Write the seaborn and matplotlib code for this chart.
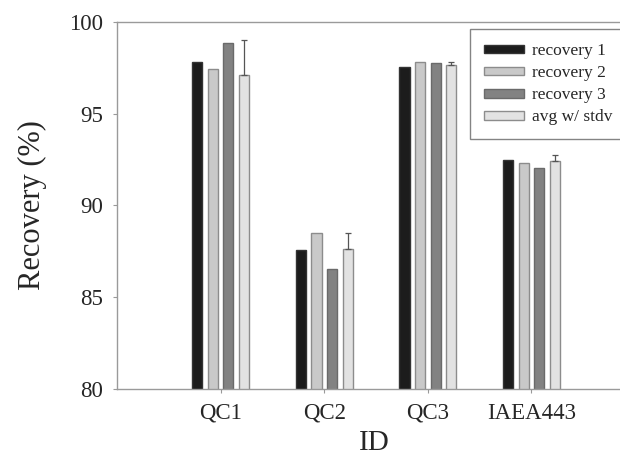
import matplotlib
matplotlib.use("Agg")
import matplotlib.pyplot as plt
import seaborn as sns
import pandas as pd

# values
ids = ["QC1", "QC2", "QC3", "IAEA443"]
series = ["recovery 1", "recovery 2", "recovery 3", "avg w/ stdv"]
recovery1 = [97.8, 87.6, 97.55, 92.5]
recovery2 = [97.45, 88.5, 97.8, 92.3]
recovery3 = [98.85, 86.55, 97.75, 92.05]
avg = [97.1, 87.65, 97.65, 92.4]
stdv = [1.9, 0.85, 0.17, 0.33]

colors = ["#1c1c1c", "#c9c9c9", "#828282", "#e2e2e2"]
edges = ["#333333", "#8c8c8c", "#6a6a6a", "#8c8c8c"]

rows = []
for name, vals in zip(series, [recovery1, recovery2, recovery3, avg]):
    for i, v in zip(ids, vals):
        rows.append({"ID": i, "series": name, "value": v})
df = pd.DataFrame(rows)

sns.set_style("white")
plt.rcParams["font.family"] = ["Liberation Serif", "DejaVu Serif"]

fig = plt.figure(figsize=(6.2, 4.57), dpi=100)
ax = fig.add_axes([117 / 620, 68 / 457, 515 / 620, 367 / 457])

sns.barplot(data=df, x="ID", y="value", hue="series", order=ids, hue_order=series,
            palette=colors, width=0.6, gap=0.35, errorbar=None, ax=ax,
            linewidth=1.0, saturation=1)

for cont, ec in zip(ax.containers, edges):
    for p in cont:
        p.set_edgecolor(ec)

# error bars on the average bars, upper side only
xs = [p.get_x() + p.get_width() / 2 for p in ax.containers[3]]
ax.errorbar(xs, avg, yerr=[[0] * len(stdv), stdv], fmt="none",
            ecolor="#555555", elinewidth=0.9, capsize=2, capthick=0.9)

ax.set_ylim(80, 100)
ax.set_xlim(-1.0, 3.97)
ax.set_yticks([80, 85, 90, 95, 100])
ax.set_xlabel("ID", fontsize=21, labelpad=4.5)
ax.set_ylabel("Recovery (%)", fontsize=22, labelpad=16)
ax.tick_params(axis="both", labelsize=16.5, length=3, width=0.8, color="#999999",
               direction="out", bottom=True, left=True, pad=7)
for s in ax.spines.values():
    s.set_color("#9a9a9a")
    s.set_linewidth(1.0)

leg = ax.legend(loc="upper left", bbox_to_anchor=(0.685, 0.98), fontsize=12.5,
                frameon=True, fancybox=False, edgecolor="#666666",
                handlelength=2.3, handleheight=0.4, labelspacing=0.35,
                borderpad=0.8, handletextpad=0.5, borderaxespad=0)
leg.get_frame().set_linewidth(1.0)
for h, ec in zip(leg.legend_handles, edges):
    h.set_edgecolor(ec)
    h.set_linewidth(1.0)

fig.savefig("out.png", dpi=100)
